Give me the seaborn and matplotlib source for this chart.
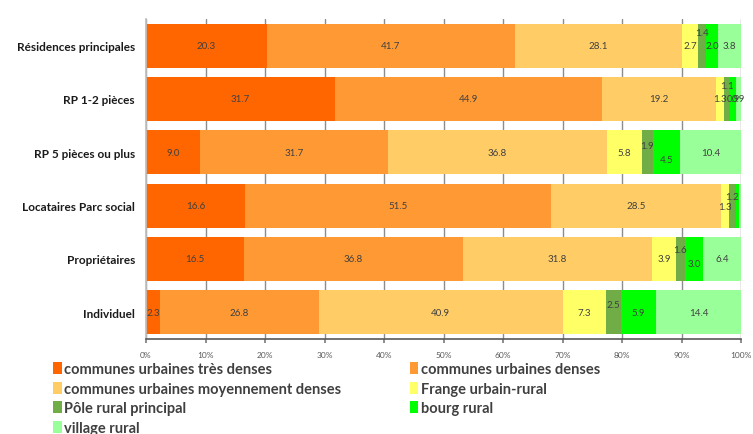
import matplotlib
matplotlib.use("Agg")
import matplotlib.pyplot as plt
import seaborn as sns
import pandas as pd
import numpy as np
from matplotlib.patches import Patch

categories = ["Résidences principales", "RP 1-2 pièces", "RP 5 pièces ou plus",
              "Locataires Parc social", "Propriétaires", "Individuel"]
series_names = ["communes urbaines très denses", "communes urbaines denses",
                "communes urbaines moyennement denses", "Frange urbain-rural",
                "Pôle rural principal", "bourg rural", "village rural"]
tres_denses = [20.3, 31.7, 9.0, 16.6, 16.5, 2.3]
denses = [41.7, 44.9, 31.7, 51.5, 36.8, 26.8]
moy_denses = [28.1, 19.2, 36.8, 28.5, 31.8, 40.9]
frange = [2.7, 1.3, 5.8, 1.3, 3.9, 7.3]
pole_rural = [1.4, 1.1, 1.9, 1.2, 1.6, 2.5]
bourg = [2.0, 0.9, 4.5, 0.6, 3.0, 5.9]
village = [3.8, 0.9, 10.4, 0.3, 6.4, 14.4]
tick_labels = ["0%", "10%", "20%", "30%", "40%", "50%", "60%", "70%", "80%", "90%", "100%"]

colors = ["#FF6600", "#FF9933", "#FFCC66", "#FFFF66", "#70AD47", "#00FF00", "#99FF99"]
# vertical label offsets (in bar units) for crowded labels
label_dy = {(0, 4): -0.25, (1, 4): -0.25, (2, 4): -0.13, (2, 5): 0.13,
            (3, 4): -0.17, (3, 3): 0.02, (4, 4): -0.17, (4, 5): 0.09, (5, 4): -0.15}

sns.set_theme(style="white")
plt.rcParams["font.family"] = ["Lato", "DejaVu Sans"]

series = [tres_denses, denses, moy_denses, frange, pole_rural, bourg, village]
vals = np.array(series)
cum = np.cumsum(vals, axis=0)

fig = plt.figure(figsize=(7.53, 4.35), dpi=100)
ax = fig.add_axes([146/753, 1-340/435, (741-146)/753, (340-20)/435])

# draw cumulative sums from the last series back to the first
for i in range(len(series) - 1, -1, -1):
    df = pd.DataFrame({"cat": categories, "val": cum[i]})
    sns.barplot(data=df, y="cat", x="val", color=colors[i], orient="h",
                width=0.83, saturation=1, ax=ax, zorder=2, linewidth=0)

for i in range(len(series)):
    for j in range(len(categories)):
        v = vals[i, j]
        if v < 0.8:
            continue
        xc = cum[i, j] - v / 2
        yc = j + label_dy.get((j, i), 0)
        ax.text(xc, yc, f"{v:.1f}", ha="center", va="center", fontsize=7,
                color="#404040", zorder=3)

ax.set_xlim(0, 100)
ax.set_ylim(5.5, -0.5)
ax.set_xticks(np.arange(0, 101, 10))
ax.set_xticklabels(tick_labels, fontsize=6, color="#595959")
ax.set_xlabel("")
ax.set_ylabel("")
ax.tick_params(axis="y", length=0, labelsize=8.5, pad=8)
for lab in ax.get_yticklabels():
    lab.set_fontweight("bold")
    lab.set_color("#1a1a1a")
ax.tick_params(axis="x", length=3, color="#808080", pad=6, direction="out", bottom=True)
ax.grid(axis="x", color="#8c8c8c", linewidth=1, zorder=0)
ax.set_axisbelow(True)
for s in ["top", "right"]:
    ax.spines[s].set_visible(False)
ax.spines["left"].set_color("#bfbfbf")
ax.spines["bottom"].set_color("#595959")
ax.spines["bottom"].set_linewidth(1.2)

handles = [Patch(facecolor=c, edgecolor="none") for c in colors]
order = [0, 2, 4, 6, 1, 3, 5]
leg = fig.legend([handles[k] for k in order], [series_names[k] for k in order],
                 ncol=2, loc="upper left", bbox_to_anchor=(40/753, 1-350/435),
                 frameon=False, handlelength=0.6, handleheight=0.9, handletextpad=0.15,
                 columnspacing=4.7, labelspacing=0.38,
                 prop={"weight": "bold", "size": 10.5})
for t in leg.get_texts():
    t.set_color("#404040")

fig.savefig("out.png", dpi=100)
